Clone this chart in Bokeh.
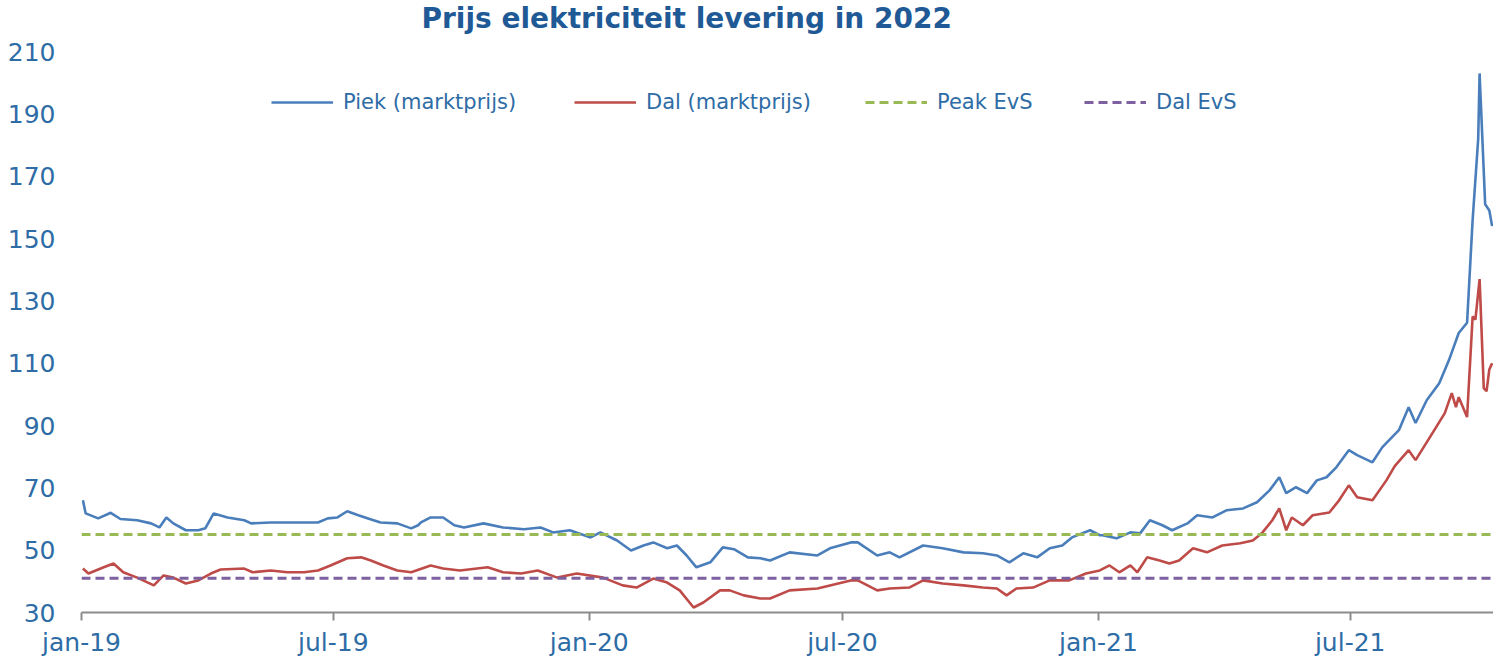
import pandas as pd
from bokeh.plotting import figure
from bokeh.models import FixedTicker, Legend, LegendItem, Range1d, Label
from bokeh.embed import file_html
from bokeh.resources import INLINE

title_text = "Prijs elektriciteit levering in 2022"

piek_dates = [
    "2019-01-02", "2019-01-04", "2019-01-13", "2019-01-22", "2019-01-29", "2019-02-10", "2019-02-20",
    "2019-02-26", "2019-03-03", "2019-03-08", "2019-03-17", "2019-03-26", "2019-03-31", "2019-04-06",
    "2019-04-16", "2019-04-28", "2019-05-03", "2019-05-17", "2019-05-29", "2019-06-10", "2019-06-20",
    "2019-06-27", "2019-07-04", "2019-07-11", "2019-07-19", "2019-07-26", "2019-08-04", "2019-08-16",
    "2019-08-26", "2019-08-31", "2019-09-02", "2019-09-09", "2019-09-18", "2019-09-26", "2019-10-03",
    "2019-10-17", "2019-10-31", "2019-11-15", "2019-11-27", "2019-12-06", "2019-12-18", "2020-01-02",
    "2020-01-09", "2020-01-21", "2020-01-31", "2020-02-09", "2020-02-16", "2020-02-26", "2020-03-04",
    "2020-03-11", "2020-03-18", "2020-03-28", "2020-04-06", "2020-04-14", "2020-04-24", "2020-05-03",
    "2020-05-10", "2020-05-24", "2020-06-13", "2020-06-22", "2020-07-07", "2020-07-12", "2020-07-26",
    "2020-08-04", "2020-08-11", "2020-08-28", "2020-09-11", "2020-09-26", "2020-10-10", "2020-10-20",
    "2020-10-29", "2020-11-08", "2020-11-18", "2020-11-27", "2020-12-06", "2020-12-13", "2020-12-26",
    "2021-01-02", "2021-01-04", "2021-01-14", "2021-01-24", "2021-01-31", "2021-02-07", "2021-02-16",
    "2021-02-23", "2021-03-06", "2021-03-13", "2021-03-24", "2021-04-03", "2021-04-15", "2021-04-25",
    "2021-05-04", "2021-05-11", "2021-05-16", "2021-05-23", "2021-05-31", "2021-06-07", "2021-06-14",
    "2021-06-21", "2021-06-30", "2021-07-06", "2021-07-17", "2021-07-24", "2021-07-29", "2021-08-05",
    "2021-08-12", "2021-08-17", "2021-08-25", "2021-09-03", "2021-09-10", "2021-09-17", "2021-09-23",
    "2021-09-27", "2021-10-01", "2021-10-02", "2021-10-04", "2021-10-06", "2021-10-09", "2021-10-11",
]
piek_values = [
    66, 61.8, 60.2, 62, 60, 59.6, 58.6,
    57.3, 60.5, 58.6, 56.4, 56.4, 57, 61.8,
    60.5, 59.6, 58.6, 58.9, 58.9, 58.9, 58.9,
    60.2, 60.5, 62.5, 61.2, 60.2, 58.9, 58.6,
    57, 58, 58.9, 60.5, 60.5, 58, 57.3,
    58.6, 57.3, 56.7, 57.3, 55.7, 56.4, 54.1,
    55.7, 53.1, 49.9, 51.5, 52.5, 50.6, 51.5,
    48.3, 44.5, 46.1, 50.9, 50.3, 47.7, 47.4,
    46.7, 49.3, 48.3, 50.6, 52.5, 52.5, 48.3,
    49.3, 47.7, 51.5, 50.6, 49.3, 49, 48.3,
    46.1, 49, 47.7, 50.6, 51.5, 54.1, 56.4,
    54.8, 54.8, 53.8, 55.7, 55.4, 59.6, 58,
    56.4, 58.6, 61.2, 60.5, 62.8, 63.4, 65.4,
    69.2, 73.4, 68.3, 70.2, 68.3, 72.4, 73.4,
    76.6, 82.1, 80.5, 78.2, 83, 85.3, 88.5,
    95.9, 90.8, 98.1, 103.6, 111, 119.7, 123,
    156, 182, 203, 182, 161, 159, 154,
]

dal_dates = [
    "2019-01-02", "2019-01-06", "2019-01-17", "2019-01-24", "2019-01-31", "2019-02-10", "2019-02-22",
    "2019-03-01", "2019-03-08", "2019-03-17", "2019-03-26", "2019-04-04", "2019-04-11", "2019-04-28",
    "2019-05-04", "2019-05-17", "2019-05-29", "2019-06-10", "2019-06-20", "2019-06-29", "2019-07-11",
    "2019-07-21", "2019-07-28", "2019-08-06", "2019-08-16", "2019-08-26", "2019-09-09", "2019-09-18",
    "2019-09-30", "2019-10-20", "2019-10-31", "2019-11-13", "2019-11-25", "2019-12-09", "2019-12-23",
    "2020-01-11", "2020-01-25", "2020-02-04", "2020-02-16", "2020-02-26", "2020-03-06", "2020-03-16",
    "2020-03-23", "2020-04-04", "2020-04-11", "2020-04-21", "2020-05-03", "2020-05-10", "2020-05-24",
    "2020-06-13", "2020-06-22", "2020-07-07", "2020-07-12", "2020-07-26", "2020-08-04", "2020-08-18",
    "2020-08-28", "2020-09-11", "2020-09-26", "2020-10-10", "2020-10-20", "2020-10-27", "2020-11-03",
    "2020-11-15", "2020-11-27", "2020-12-11", "2020-12-23", "2021-01-02", "2021-01-09", "2021-01-16",
    "2021-01-24", "2021-01-29", "2021-02-05", "2021-02-14", "2021-02-21", "2021-02-28", "2021-03-10",
    "2021-03-20", "2021-03-31", "2021-04-13", "2021-04-22", "2021-04-29", "2021-05-06", "2021-05-11",
    "2021-05-16", "2021-05-20", "2021-05-28", "2021-06-04", "2021-06-16", "2021-06-23", "2021-06-30",
    "2021-07-06", "2021-07-17", "2021-07-27", "2021-08-02", "2021-08-12", "2021-08-17", "2021-08-29",
    "2021-09-07", "2021-09-12", "2021-09-15", "2021-09-17", "2021-09-23", "2021-09-27", "2021-09-29",
    "2021-10-02", "2021-10-05", "2021-10-07", "2021-10-09", "2021-10-11",
]
dal_values = [
    44.1, 42.5, 44.5, 45.7, 42.9, 41.2, 38.7,
    41.9, 41.2, 39.3, 40.3, 42.5, 43.8, 44.1,
    42.9, 43.5, 42.9, 42.9, 43.5, 45.1, 47.4,
    47.7, 46.7, 45.1, 43.5, 42.9, 45.1, 44.1,
    43.5, 44.5, 42.9, 42.5, 43.5, 41.2, 42.5,
    41.2, 38.7, 38, 40.9, 39.6, 37.1, 31.6,
    33.2, 37.1, 37.1, 35.5, 34.5, 34.5, 37.1,
    37.7, 38.7, 40.3, 40.3, 37.1, 37.7, 38,
    40.3, 39.3, 38.7, 38, 37.7, 35.5, 37.7,
    38, 40.3, 40.3, 42.5, 43.5, 45.1, 42.9,
    45.1, 42.9, 47.7, 46.7, 45.7, 46.7, 50.6,
    49.3, 51.5, 52.2, 53.1, 55.7, 59.6, 63.4,
    56.4, 60.5, 58, 61.2, 62.1, 66, 70.8,
    67, 66, 72.4, 77, 82.1, 78.9, 87.5,
    94, 100.4, 95.9, 99.1, 92.7, 125, 124,
    137, 102, 101, 108, 110,
]

peak_evs = 55
dal_evs = 41

series_names = ["Piek (marktprijs)", "Dal (marktprijs)", "Peak EvS", "Dal EvS"]
y_ticks = [30, 50, 70, 90, 110, 130, 150, 170, 190, 210]
x_tick_dates = ["2019-01-01", "2019-07-01", "2020-01-01", "2020-07-01", "2021-01-01", "2021-07-01"]
x_tick_labels = ["jan-19", "jul-19", "jan-20", "jul-20", "jan-21", "jul-21"]
x_start = "2019-01-01"
x_end = "2021-10-12"
y_top = 226.4   # headroom above the 210 tick where the title sits

BLUE = "#4A7EBB"
RED = "#BE4B48"
GREEN = "#98B954"
PURPLE = "#7D60A0"
TEXT = "#2E6CA6"
TITLE = "#1F5A96"
FONT = "DejaVu Sans"


def ms(d):
    return float(pd.Timestamp(d).value // 10**6)


p = figure(
    width=1493, height=659,
    x_axis_type="datetime",
    x_range=Range1d(ms(x_start), ms(x_end)),
    y_range=Range1d(y_ticks[0], y_top),
    output_backend="svg", toolbar_location=None,
    min_border_left=81, min_border_right=0, min_border_top=0, min_border_bottom=47,
)
p.outline_line_color = None
p.background_fill_color = "white"
p.grid.visible = False

r_piek = p.line(pd.to_datetime(piek_dates), piek_values, line_color=BLUE, line_width=2.6)
r_dal = p.line(pd.to_datetime(dal_dates), dal_values, line_color=RED, line_width=2.6)
ends = pd.to_datetime([x_start, x_end])
r_pevs = p.line(ends, [peak_evs, peak_evs], line_color=GREEN, line_width=3, line_dash="9 5")
r_devs = p.line(ends, [dal_evs, dal_evs], line_color=PURPLE, line_width=3, line_dash="9 5")

# title, placed in the headroom at the top of the frame
p.add_layout(Label(x=340, y=594, x_units="screen", y_units="screen", text=title_text,
                   text_font=FONT, text_font_size="28px", text_font_style="bold",
                   text_color=TITLE, text_baseline="alphabetic", text_align="left"))

# axes
p.yaxis.ticker = FixedTicker(ticks=y_ticks)
p.yaxis.axis_line_color = None
p.yaxis.major_tick_line_color = None
p.yaxis.minor_tick_line_color = None
p.yaxis.major_tick_out = 0
p.yaxis.major_tick_in = 0
p.yaxis.major_label_standoff = 26
p.yaxis.major_label_text_font = FONT
p.yaxis.major_label_text_font_size = "25px"
p.yaxis.major_label_text_color = TEXT

xt = [ms(d) for d in x_tick_dates]
p.xaxis.ticker = FixedTicker(ticks=xt)
p.xaxis.major_label_overrides = {t: lab for t, lab in zip(xt, x_tick_labels)}
p.xaxis.axis_line_color = "#8C8C8C"
p.xaxis.axis_line_width = 2
p.xaxis.major_tick_line_color = "#8C8C8C"
p.xaxis.major_tick_line_width = 2
p.xaxis.major_tick_out = 8
p.xaxis.major_tick_in = 0
p.xaxis.minor_tick_line_color = None
p.xaxis.major_label_standoff = 7
p.xaxis.major_label_text_font = FONT
p.xaxis.major_label_text_font_size = "25px"
p.xaxis.major_label_text_color = TEXT

renderers = [r_piek, r_dal, r_pevs, r_devs]
legend_x = [190, 493, 784, 1003]
for name, r, lx in zip(series_names, renderers, legend_x):
    leg = Legend(items=[LegendItem(label=name, renderers=[r])], location=(lx, 498),
                 orientation="horizontal", padding=0, margin=0, spacing=0,
                 glyph_width=62, glyph_height=22, label_height=22, label_standoff=10,
                 label_text_font=FONT, label_text_font_size="21px", label_text_color=TEXT,
                 border_line_color=None, background_fill_alpha=0)
    p.add_layout(leg, "center")

open("out.html", "w").write(file_html(p, INLINE))
